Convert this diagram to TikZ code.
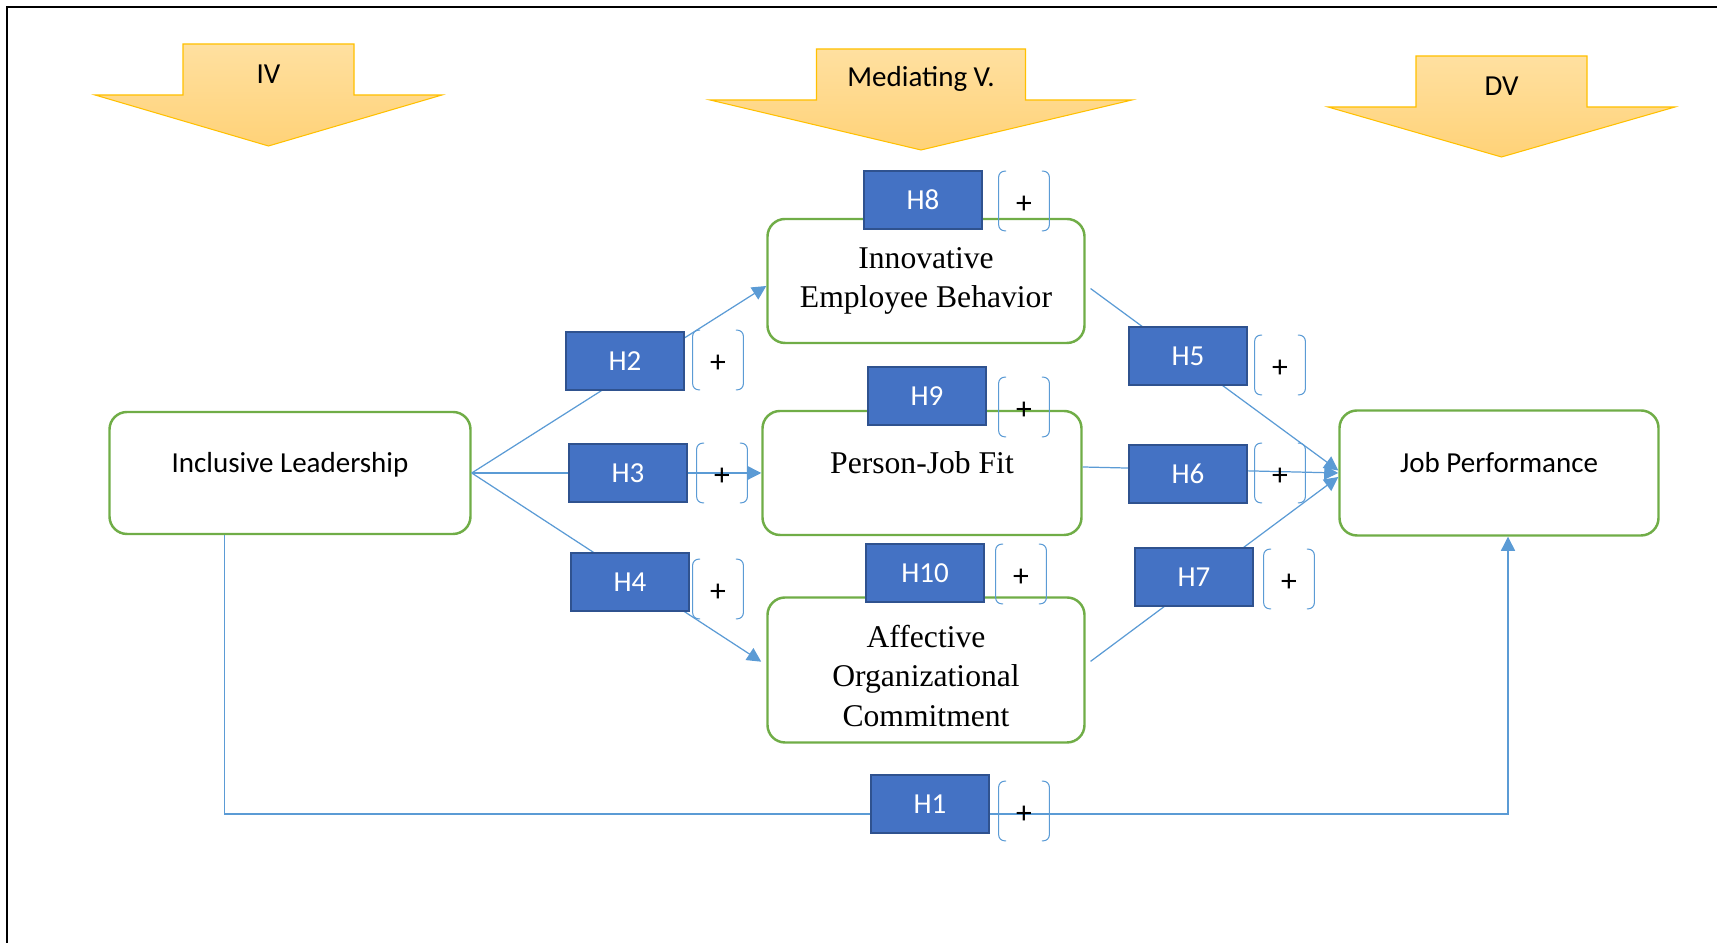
\documentclass[tikz,border=0pt]{standalone}
\usepackage{fontspec}
\usetikzlibrary{arrows.meta}
\newfontfamily\calib{Carlito}
\newfontfamily\tnr{Liberation Serif}
\definecolor{hypblue}{HTML}{4472C4}
\definecolor{hypedge}{HTML}{2F528F}
\definecolor{boxgreen}{HTML}{70AD47}
\definecolor{lineblue}{HTML}{5B9BD5}
\definecolor{hdredge}{HTML}{FFC000}
\definecolor{hdrtop}{RGB}{255,224,160}
\definecolor{hdrbot}{RGB}{255,210,120}

\begin{document}
\begin{tikzpicture}[
        box/.style={rectangle, draw=boxgreen, line width=1.4pt, rounded corners=0.35cm, fill=white, align=center, font=\calib\fontsize{16.5}{20}\selectfont},
        sbox/.style={box, font=\tnr\fontsize{18}{22.5}\selectfont},
        hyp/.style={rectangle, draw=hypedge, fill=hypblue, line width=1.3pt, minimum width=2.36cm, minimum height=1.16cm, text=white, font=\calib\fontsize{16.5}{20}\selectfont},
        sign/.style={rectangle, minimum width=1cm, minimum height=1.18cm, inner sep=0pt, text height=0.5cm, text depth=0cm, font=\calib\fontsize{18}{18}\selectfont},
        bracket/.style={draw=lineblue, line width=0.6pt, rounded corners=0.12cm},
        link/.style={draw=lineblue, line width=0.7pt, -{Triangle[length=8pt, width=8pt]}},
        header/.style={draw=hdredge, line width=0.6pt, top color=hdrtop, bottom color=hdrbot},
        headtext/.style={font=\calib\fontsize{16.5}{20}\selectfont}
    ]
        \useasboundingbox (0,0) rectangle (34.34,18.86);

        % Frame
        \draw[line width=1.4pt] (34.34,18.72) -- (0.14,18.72) -- (0.14,0);

        % Header arrows
        \draw[header] (3.66,17.98) -- (7.08,17.98) -- (7.08,16.96) -- (8.84,16.96) -- (5.37,15.94) -- (1.90,16.96) -- (3.66,16.96) -- cycle;
        \node[headtext] (iv) at (5.37,17.38) {IV};
        \draw[header] (16.33,17.88) -- (20.51,17.88) -- (20.51,16.86) -- (22.64,16.86) -- (18.42,15.86) -- (14.20,16.86) -- (16.33,16.86) -- cycle;
        \node[headtext] (mv) at (18.42,17.28) {Mediating V.};
        \draw[header] (28.32,17.74) -- (31.74,17.74) -- (31.74,16.72) -- (33.50,16.72) -- (30.03,15.72) -- (26.56,16.72) -- (28.32,16.72) -- cycle;
        \node[headtext] (dv) at (30.03,17.14) {DV};

        % Variables
        \node[box, minimum width=7.22cm, minimum height=2.44cm, text depth=0.42cm] (il) at (5.80,9.40) {Inclusive Leadership};
        \node[sbox, minimum width=6.34cm, minimum height=2.48cm] (ieb) at (18.52,13.24) {Innovative\\Employee Behavior};
        \node[sbox, minimum width=6.38cm, minimum height=2.48cm, text depth=0.42cm] (pjf) at (18.44,9.40) {Person-Job Fit};
        \node[sbox, minimum width=6.34cm, minimum height=2.90cm, text height=2.25cm] (aoc) at (18.52,5.46) {Affective\\Organizational\\Commitment};
        \node[box, minimum width=6.38cm, minimum height=2.50cm, text depth=0.42cm] (jp) at (29.98,9.40) {Job Performance};

        % Paths
        \draw[link] (il.east) -- ([yshift=-0.1cm]ieb.west);
        \draw[link] (il.east) -- (pjf.west);
        \draw[link, shorten >=0.12cm] (il.east) -- ([yshift=0.1cm]aoc.west);
        \draw[link, shorten <=0.12cm] ([yshift=-0.08cm]ieb.east) -- ([yshift=0.05cm]jp.west);
        \draw[link] ([yshift=0.12cm]pjf.east) -- (jp.west);
        \draw[link, shorten <=0.12cm] ([yshift=0.1cm]aoc.east) -- ([yshift=-0.08cm]jp.west);
        \coordinate (b1) at (4.49,2.58);
        \coordinate (b2) at (30.16,2.58);
        \draw[link] (b1 |- il.south) -- (b1) -- (b2) -- (b2 |- jp.south);

        % Hypotheses
        \node[hyp] (h1) at (18.60,2.78) {H1};
        \node[hyp] (h2) at (12.50,11.64) {H2};
        \node[hyp] (h3) at (12.56,9.40) {H3};
        \node[hyp] (h4) at (12.60,7.22) {H4};
        \node[hyp] (h5) at (23.76,11.74) {H5};
        \node[hyp] (h6) at (23.76,9.38) {H6};
        \node[hyp] (h7) at (23.88,7.32) {H7};
        \node[hyp] (h8) at (18.46,14.86) {H8};
        \node[hyp] (h9) at (18.54,10.94) {H9};
        \node[hyp] (h10) at (18.50,7.40) {H10};

        % Signs
        \node[sign] (s1) at (20.48,2.64) {+};
        \node[sign] (s2) at (14.36,11.66) {+};
        \node[sign] (s3) at (14.44,9.40) {+};
        \node[sign] (s4) at (14.36,7.08) {+};
        \node[sign] (s5) at (25.60,11.56) {+};
        \node[sign] (s6) at (25.60,9.40) {+};
        \node[sign] (s7) at (25.78,7.28) {+};
        \node[sign] (s8) at (20.48,14.84) {+};
        \node[sign] (s9) at (20.48,10.72) {+};
        \node[sign] (s10) at (20.42,7.38) {+};
        \foreach \s in {s1,s2,s3,s4,s5,s6,s7,s8,s9,s10} {
            \draw[bracket] ([xshift=0.15cm]\s.north west) -- (\s.north west) -- (\s.south west) -- ([xshift=0.15cm]\s.south west);
            \draw[bracket] ([xshift=-0.15cm]\s.north east) -- (\s.north east) -- (\s.south east) -- ([xshift=-0.15cm]\s.south east);
        }

    \end{tikzpicture}
\end{document}
